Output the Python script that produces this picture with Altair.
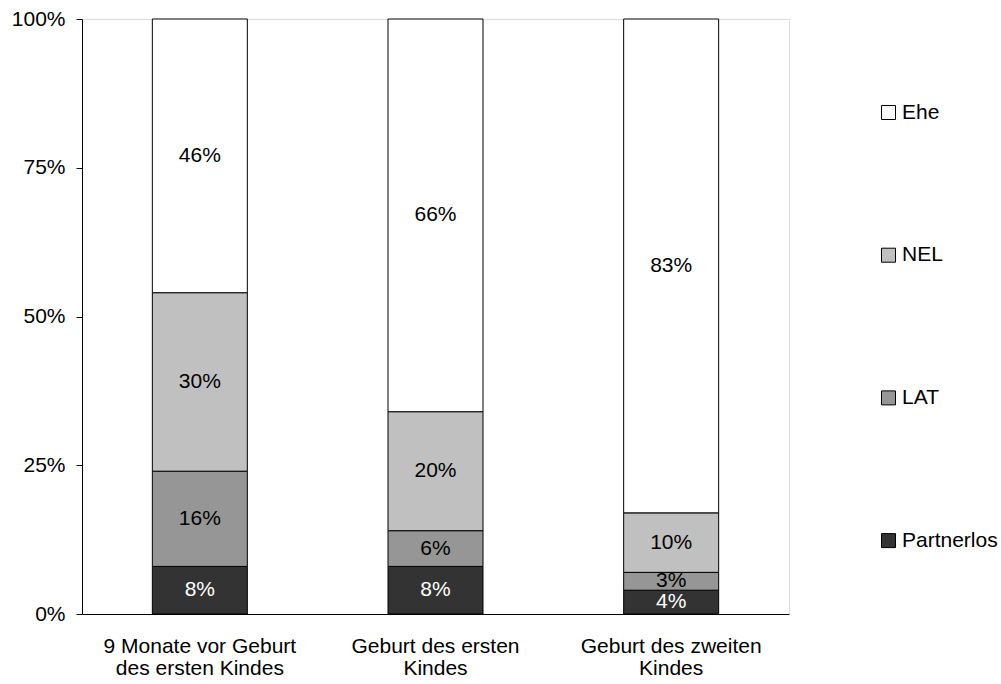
import altair as alt
import pandas as pd

# Phases along the x axis (line breaks inside the axis labels)
phases = [
    "9 Monate vor Geburt\ndes ersten Kindes",
    "Geburt des ersten\nKindes",
    "Geburt des zweiten\nKindes",
]

# Partnership status, bottom to top in each bar
statuses = ["Partnerlos", "LAT", "NEL", "Ehe"]
status_colors = ["#333333", "#969696", "#c0c0c0", "#ffffff"]

# Shares (percent) per status, one value per phase
partnerlos = [8, 8, 4]
lat = [16, 6, 3]
nel = [30, 20, 10]
ehe = [46, 66, 83]

series = {"Partnerlos": partnerlos, "LAT": lat, "NEL": nel, "Ehe": ehe}
rows = []
for rank, status in enumerate(statuses):
    for phase, pct in zip(phases, series[status]):
        rows.append({"phase": phase, "status": status, "rank": rank,
                     "share": pct / 100.0, "label": f"{pct}%"})
df = pd.DataFrame(rows)

FONT = "Liberation Sans"
FS = 21

base = alt.Chart(df)

x_enc = alt.X(
    "phase:N", sort=phases, title=None,
    scale=alt.Scale(paddingInner=0.597, paddingOuter=0.2985),
    axis=alt.Axis(labelExpr="split(datum.label, '\\n')", labelAngle=0,
                  ticks=False, labelPadding=21, labelLineHeight=22, labelLimit=0,
                  labelFontSize=FS, labelFont=FONT, labelColor="black",
                  domainColor="black", labelBaseline="top"),
)

bars = base.mark_bar(stroke="black", strokeWidth=1, size=95).encode(
    x=x_enc,
    y=alt.Y("share:Q", stack="zero", title=None,
            scale=alt.Scale(domain=[0, 1], nice=False),
            axis=alt.Axis(values=[0, 0.25, 0.5, 0.75, 1], format=".0%",
                          grid=False, tickSize=6, tickColor="black",
                          domainColor="black", labelPadding=11,
                          labelFontSize=FS, labelFont=FONT, labelColor="black")),
    fill=alt.Fill("status:N",
                  scale=alt.Scale(domain=statuses[::-1], range=status_colors[::-1]),
                  legend=alt.Legend(title=None, orient="none", legendX=796, legendY=83,
                                    symbolType="square", symbolSize=196,
                                    symbolStrokeColor="black", symbolStrokeWidth=1,
                                    labelFontSize=FS, labelFont=FONT, labelColor="black",
                                    labelOffset=3, labelLimit=0, rowPadding=120.7,
                                    padding=0)),
    order=alt.Order("rank:Q", sort="ascending"),
)

labels = base.transform_stack(
    stack="share", groupby=["phase"], sort=[alt.SortField("rank", order="ascending")],
    as_=["y0", "y1"],
).transform_calculate(
    mid="(datum.y0 + datum.y1) / 2"
).mark_text(font=FONT, fontSize=FS, baseline="middle", align="center").encode(
    x=alt.X("phase:N", sort=phases),
    y=alt.Y("mid:Q"),
    text="label:N",
    color=alt.condition(alt.datum.status == "Partnerlos",
                        alt.value("white"), alt.value("black")),
)

chart = alt.layer(bars, labels).properties(
    width=707, height=595,
    autosize=alt.AutoSizeParams(type="none"),
    padding={"left": 82, "top": 19, "right": 212, "bottom": 70},
).configure_view(stroke="#a0a0a0", strokeWidth=1).configure(background="white")

chart.save("out.html", embed_options={"renderer": "svg", "actions": False})
